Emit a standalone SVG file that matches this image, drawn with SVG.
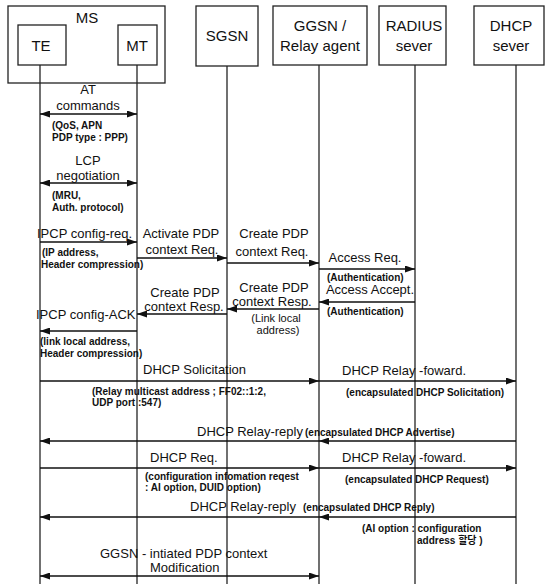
<svg xmlns="http://www.w3.org/2000/svg" width="553" height="584" viewBox="0 0 553 584">
<style>
.box{fill:#fff;stroke:#222;stroke-width:1.3}
.life{stroke:#111;stroke-width:1.2;fill:none}
.msg{stroke:#111;stroke-width:1.3;fill:none}
.h{font-family:"Liberation Sans",Arial,sans-serif;font-size:15px;fill:#111}
.m{font-family:"Liberation Sans",Arial,sans-serif;font-size:13px;fill:#111}
.r{font-family:"Liberation Sans",Arial,sans-serif;font-size:11px;fill:#111}
.s{font-family:"Liberation Sans","Noto Sans CJK KR",sans-serif;font-size:10px;font-weight:bold;fill:#111}
.c{text-anchor:middle}
</style>
<defs>
<marker id="ah" viewBox="0 0 10 7" refX="10" refY="3.5" markerWidth="10" markerHeight="7" markerUnits="userSpaceOnUse" orient="auto-start-reverse">
<path d="M0,0 L10,3.5 L0,7 z" fill="#111"/>
</marker>
</defs>
<rect width="553" height="584" fill="#fff"/>

<g id="lifelines">
<line class="life" x1="40" y1="65" x2="40" y2="584"/>
<line class="life" x1="137" y1="65" x2="137" y2="584"/>
<line class="life" x1="227" y1="66" x2="227" y2="584"/>
<line class="life" x1="319" y1="65" x2="319" y2="584"/>
<line class="life" x1="415" y1="65" x2="415" y2="584"/>
<line class="life" x1="516" y1="65" x2="516" y2="584"/>
</g>

<g id="MS">
<rect class="box" x="8" y="6" width="157" height="77" style="fill:none"/>
<text class="h c" x="87" y="23">MS</text>
</g>
<g id="TE">
<rect class="box" x="18" y="25" width="48" height="40"/>
<text class="h c" x="41" y="51">TE</text>
</g>
<g id="MT">
<rect class="box" x="118" y="25" width="39" height="40"/>
<text class="h c" x="137" y="51">MT</text>
</g>
<g id="SGSN">
<rect class="box" x="196" y="6" width="62" height="60"/>
<text class="h c" x="227" y="41">SGSN</text>
</g>
<g id="GGSN">
<rect class="box" x="273" y="6" width="94" height="59"/>
<text class="h c" x="320" y="31">GGSN /</text>
<text class="h c" x="320" y="51">Relay agent</text>
</g>
<g id="RADIUS">
<rect class="box" x="379" y="6" width="67" height="59"/>
<text class="h c" x="414" y="31">RADIUS</text>
<text class="h c" x="414" y="51">sever</text>
</g>
<g id="DHCP">
<rect class="box" x="474" y="6" width="70" height="59"/>
<text class="h c" x="511" y="31">DHCP</text>
<text class="h c" x="511" y="51">sever</text>
</g>

<g id="connectors">
<line class="msg" x1="40" y1="114" x2="137" y2="114" marker-start="url(#ah)" marker-end="url(#ah)"/>
<line class="msg" x1="40" y1="183" x2="137" y2="183" marker-start="url(#ah)" marker-end="url(#ah)"/>
<line class="msg" x1="40" y1="242" x2="137" y2="242" marker-end="url(#ah)"/>
<line class="msg" x1="137" y1="258" x2="227" y2="258" marker-end="url(#ah)"/>
<line class="msg" x1="227" y1="263" x2="319" y2="263" marker-end="url(#ah)"/>
<line class="msg" x1="319" y1="269" x2="415" y2="269" marker-end="url(#ah)"/>
<line class="msg" x1="415" y1="302" x2="319" y2="302" marker-end="url(#ah)"/>
<line class="msg" x1="319" y1="309" x2="227" y2="309" marker-end="url(#ah)"/>
<line class="msg" x1="227" y1="314" x2="137" y2="314" marker-end="url(#ah)"/>
<line class="msg" x1="137" y1="331" x2="40" y2="331" marker-end="url(#ah)"/>
<line class="msg" x1="40" y1="381" x2="319" y2="381" marker-end="url(#ah)"/>
<line class="msg" x1="319" y1="381" x2="516" y2="381" marker-end="url(#ah)"/>
<line class="msg" x1="516" y1="441" x2="319" y2="441" marker-end="url(#ah)"/>
<line class="msg" x1="319" y1="441" x2="40" y2="441" marker-end="url(#ah)"/>
<line class="msg" x1="40" y1="468" x2="319" y2="468" marker-end="url(#ah)"/>
<line class="msg" x1="319" y1="468" x2="516" y2="468" marker-end="url(#ah)"/>
<line class="msg" x1="516" y1="517" x2="319" y2="517" marker-end="url(#ah)"/>
<line class="msg" x1="319" y1="517" x2="40" y2="517" marker-end="url(#ah)"/>
<line class="msg" x1="40" y1="576" x2="319" y2="576" marker-start="url(#ah)" marker-end="url(#ah)"/>
</g>

<g id="labels">
<text class="m c" x="88" y="94">AT</text>
<text class="m c" x="88" y="110">commands</text>
<text class="s" x="52" y="129">(QoS, APN</text>
<text class="s" x="52" y="141">PDP type : PPP)</text>
<text class="m c" x="88" y="165">LCP</text>
<text class="m c" x="88" y="180">negotiation</text>
<text class="s" x="52" y="199">(MRU,</text>
<text class="s" x="52" y="211">Auth. protocol)</text>
<text class="m" x="37" y="238">IPCP config-req.</text>
<text class="s" x="42" y="256">(IP address,</text>
<text class="s" x="41" y="268">Header compression)</text>
<text class="m c" x="181" y="238">Activate PDP</text>
<text class="m c" x="182" y="254">context Req.</text>
<text class="m c" x="274" y="238">Create PDP</text>
<text class="m c" x="272" y="256">context Req.</text>
<text class="m c" x="365" y="262">Access Req.</text>
<text class="s" x="327" y="281">(Authentication)</text>
<text class="m c" x="370" y="294">Access Accept.</text>
<text class="s" x="327" y="315">(Authentication)</text>
<text class="m c" x="274" y="292">Create PDP</text>
<text class="m c" x="272" y="306">context Resp.</text>
<text class="r c" x="276" y="322">(Link local</text>
<text class="r c" x="278" y="334">address)</text>
<text class="m c" x="185" y="297">Create PDP</text>
<text class="m c" x="184" y="311">context Resp.</text>
<text class="m" x="36" y="319">IPCP config-ACK</text>
<text class="s" x="40" y="345">(link local address,</text>
<text class="s" x="40" y="357">Header compression)</text>
<text class="m" x="143" y="374">DHCP Solicitation</text>
<text class="s" x="92" y="395">(Relay multicast address ; FF02::1:2,</text>
<text class="s" x="92" y="406">UDP port :547)</text>
<text class="m" x="342" y="375">DHCP Relay -foward.</text>
<text class="s" x="346" y="396">(encapsulated DHCP Solicitation)</text>
<text class="m" x="197" y="436">DHCP Relay-reply</text>
<text class="s" x="305" y="436">(encapsulated DHCP Advertise)</text>
<text class="m" x="150" y="462">DHCP Req.</text>
<text class="m" x="342" y="462">DHCP Relay -foward.</text>
<text class="s" x="145" y="480">(configuration infomation reqest</text>
<text class="s" x="145" y="491">: AI option, DUID option)</text>
<text class="s" x="345" y="483">(encapsulated DHCP Request)</text>
<text class="m" x="190" y="511">DHCP Relay-reply</text>
<text class="s" x="303" y="511">(encapsulated DHCP Reply)</text>
<text class="s" x="362" y="532">(AI option : configuration</text>
<text class="s" x="417" y="544">address 할당 )</text>
<text class="m" x="100" y="558">GGSN - intiated PDP context</text>
<text class="m" x="150" y="572">Modification</text>
</g>
</svg>
